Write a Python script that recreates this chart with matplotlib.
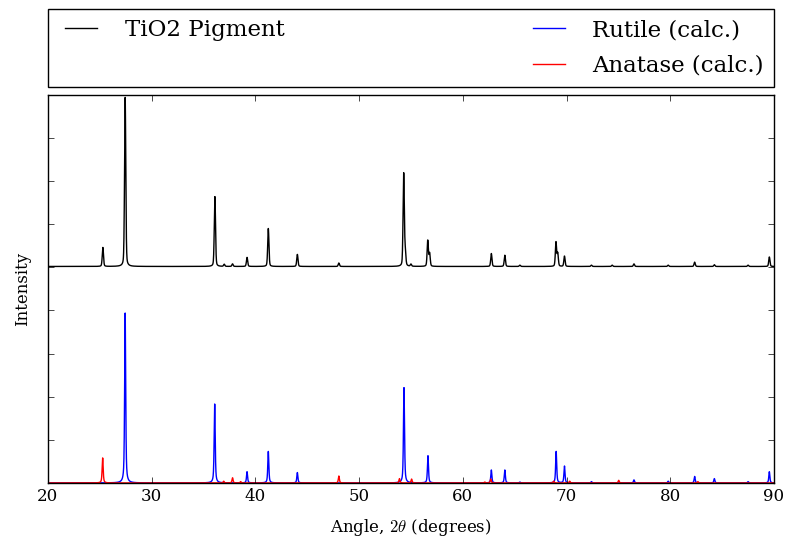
import numpy as np
import matplotlib
matplotlib.use('Agg')
import matplotlib.pyplot as plt
from matplotlib.lines import Line2D

plt.style.use('classic')
plt.rcParams['figure.facecolor'] = 'white'
plt.rcParams['savefig.facecolor'] = 'white'
plt.rcParams['font.family'] = ['DejaVu Serif']

# peak tables: position (2theta), height
meas_pos = [25.3, 27.45, 36.1, 37.0, 37.8, 39.2, 41.25, 44.05, 48.05, 54.3, 54.45, 55.0,
            56.62, 56.8, 62.75, 64.05, 65.5, 68.98, 69.15, 69.8, 72.4, 74.4, 76.5, 79.8,
            82.35, 84.25, 87.5, 89.55]
meas_h = [0.44, 3.92, 1.62, 0.05, 0.06, 0.21, 0.88, 0.28, 0.08, 2.15, 0.3, 0.05,
          0.6, 0.3, 0.3, 0.26, 0.03, 0.56, 0.3, 0.24, 0.03, 0.03, 0.06, 0.03,
          0.1, 0.04, 0.03, 0.22]
meas_w = 0.14
meas_offset = 5.02

rutile_pos = [27.45, 36.08, 39.2, 41.25, 44.05, 54.33, 56.64, 62.75, 64.05, 65.5,
              69.0, 69.8, 72.4, 76.5, 79.8, 82.35, 84.25, 87.5, 89.55]
rutile_h = [3.94, 1.83, 0.26, 0.73, 0.24, 2.21, 0.63, 0.3, 0.3, 0.02,
            0.73, 0.39, 0.03, 0.07, 0.04, 0.15, 0.1, 0.03, 0.26]

anatase_pos = [25.28, 36.95, 37.8, 38.58, 48.05, 53.89, 55.06, 62.12, 62.69, 68.76,
               70.3, 75.03, 82.66]
anatase_h = [0.58, 0.04, 0.12, 0.03, 0.16, 0.1, 0.09, 0.02, 0.09, 0.04,
             0.04, 0.06, 0.03]
calc_w = 0.12

tt = np.arange(20, 90.005, 0.01)


def profile(pos, h, w, eta):
    # pseudo-Voigt peaks
    y = np.zeros_like(tt)
    for p, a in zip(pos, h):
        x = (tt - p) / (w / 2)
        y += a * (eta / (1 + x ** 2) + (1 - eta) * np.exp(-np.log(2) * x ** 2))
    return y


fig = plt.figure(figsize=(7.85, 5.42), dpi=100)
ax = fig.add_axes([0.061, 0.109, 0.925, 0.716])

ax.plot(tt, profile(meas_pos, meas_h, meas_w, 0.3) + meas_offset, color='k', lw=1)
ax.plot(tt, profile(rutile_pos, rutile_h, calc_w, 0.6), color='b', lw=1)
ax.plot(tt, profile(anatase_pos, anatase_h, calc_w, 0.6), color='r', lw=1)

ax.set_xlim(20, 90)
ax.set_ylim(0, 9)
ax.set_yticks(range(0, 10))
ax.set_yticklabels([])
ax.set_xlabel(r'Angle, $2\theta$ (degrees)', labelpad=8)
ax.set_ylabel('Intensity', labelpad=8)

handles = [Line2D([], [], color='k', lw=1),
           Line2D([], [], alpha=0),
           Line2D([], [], color='b', lw=1),
           Line2D([], [], color='r', lw=1)]
labels = ['TiO2 Pigment', '', 'Rutile (calc.)', 'Anatase (calc.)']
ax.legend(handles, labels, bbox_to_anchor=(0., 1.02, 1., .102), loc=3, ncol=2,
          mode='expand', borderaxespad=0., fontsize=16.5, handlelength=2.0,
          handletextpad=0.9, labelspacing=0.6, borderpad=0.45, fancybox=False)

fig.savefig('out.png', dpi=100)
